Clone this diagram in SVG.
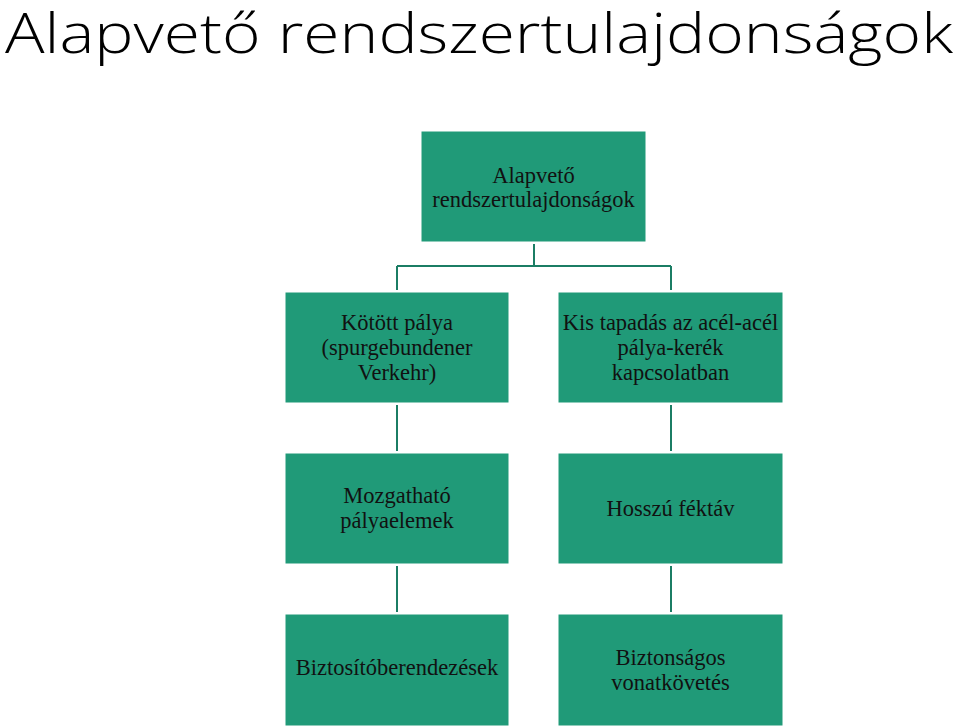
<svg xmlns="http://www.w3.org/2000/svg" width="960" height="726" viewBox="0 0 960 726">
<style>
.box{fill:#209a78;stroke:#ffffff;stroke-width:1}
.lbl{font-family:"Liberation Serif",serif;font-size:22.5px;fill:#111111;text-anchor:middle}
.con{stroke:#1b7d64;stroke-width:2;fill:none}
.title{font-family:"Open Sans","Liberation Sans",sans-serif;font-weight:300;font-size:56px;fill:#000000}
</style>
<rect width="960" height="726" fill="#ffffff"/>
<text class="title" x="5" y="53" textLength="948" lengthAdjust="spacingAndGlyphs">Alapvető rendszertulajdonságok</text>
<g id="connectors">
<path class="con" d="M534,244 V266 M397,266 H671 M397,266 V290 M671,266 V290"/>
<path class="con" d="M397,405 V451 M671,405 V451"/>
<path class="con" d="M397,566 V612 M671,566 V612"/>
</g>
<g id="n0"><rect class="box" x="421" y="131" width="225" height="111"/>
<text class="lbl" x="533.5" y="183">Alapvető</text><text class="lbl" x="533.5" y="207">rendszertulajdonságok</text></g>
<g id="n1"><rect class="box" x="285" y="292" width="224" height="111"/>
<text class="lbl" x="397" y="330">Kötött pálya</text><text class="lbl" x="397" y="355">(spurgebundener</text><text class="lbl" x="397" y="380">Verkehr)</text></g>
<g id="n2"><rect class="box" x="558" y="292" width="225" height="111"/>
<text class="lbl" x="670.5" y="330">Kis tapadás az acél-acél</text><text class="lbl" x="670.5" y="355">pálya-kerék</text><text class="lbl" x="670.5" y="380">kapcsolatban</text></g>
<g id="n3"><rect class="box" x="285" y="453" width="224" height="111"/>
<text class="lbl" x="397" y="503">Mozgatható</text><text class="lbl" x="397" y="528">pályaelemek</text></g>
<g id="n4"><rect class="box" x="558" y="453" width="225" height="111"/>
<text class="lbl" x="670.5" y="516">Hosszú féktáv</text></g>
<g id="n5"><rect class="box" x="285" y="614" width="224" height="112"/>
<text class="lbl" x="397" y="675">Biztosítóberendezések</text></g>
<g id="n6"><rect class="box" x="558" y="614" width="225" height="112"/>
<text class="lbl" x="670.5" y="665">Biztonságos</text><text class="lbl" x="670.5" y="690">vonatkövetés</text></g>
</svg>
